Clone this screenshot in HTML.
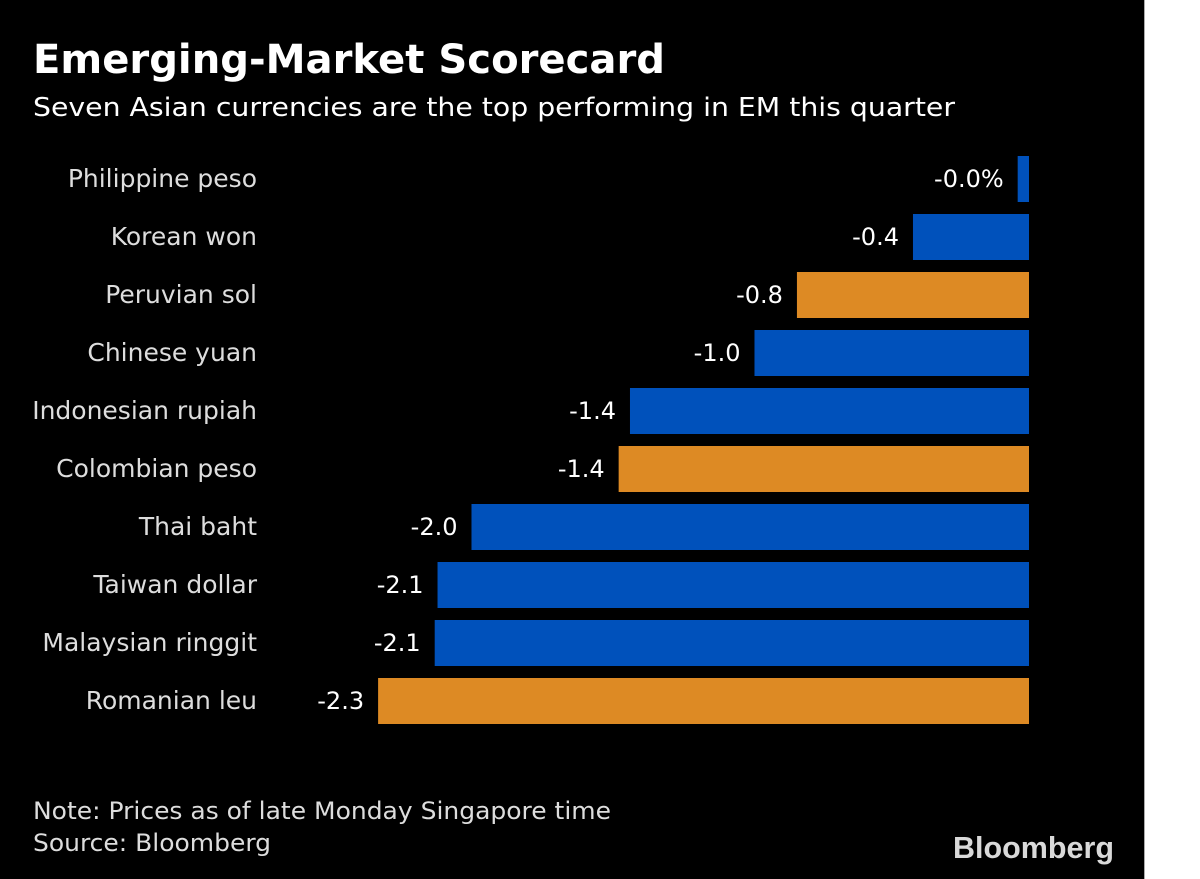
<!DOCTYPE html>
<html><head><meta charset="utf-8"><style>
html,body{margin:0;padding:0;background:#fff;}
svg{display:block;font-family:"DejaVu Sans","Liberation Sans",sans-serif;}
</style></head><body>
<svg id="chart" width="1200" height="879" viewBox="0 0 1200 879">
<rect x="0" y="0" width="1144" height="879" fill="#000"/>
<line x1="1144.5" y1="0" x2="1144.5" y2="879" stroke="#aaa" stroke-width="1"/>
<text x="33" y="73" font-size="40" font-weight="bold" fill="#fff" textLength="632" lengthAdjust="spacingAndGlyphs">Emerging-Market Scorecard</text>
<text x="33" y="116" font-size="26" fill="#fff" textLength="922" lengthAdjust="spacingAndGlyphs">Seven Asian currencies are the top performing in EM this quarter</text>
<g id="bars"></g>
<text x="33" y="819" font-size="24" fill="#ddd" textLength="578" lengthAdjust="spacingAndGlyphs">Note: Prices as of late Monday Singapore time</text>
<text x="33" y="851" font-size="24" fill="#ddd" textLength="238" lengthAdjust="spacingAndGlyphs">Source: Bloomberg</text>
<text x="953" y="858" font-family="Liberation Sans, sans-serif" font-size="31" font-weight="bold" fill="#d9d9d9" textLength="161" lengthAdjust="spacingAndGlyphs">Bloomberg</text>
</svg>
<script>
const categories = ["Philippine peso","Korean won","Peruvian sol","Chinese yuan","Indonesian rupiah","Colombian peso","Thai baht","Taiwan dollar","Malaysian ringgit","Romanian leu"];
const values = [-0.04,-0.41,-0.82,-0.97,-1.41,-1.45,-1.97,-2.09,-2.10,-2.30];
const valueLabels = ["-0.0%","-0.4","-0.8","-1.0","-1.4","-1.4","-2.0","-2.1","-2.1","-2.3"];
const isAsian = [true,true,false,true,true,false,true,true,true,false];

const NS = "http://www.w3.org/2000/svg";
const g = document.getElementById("bars");
const x0 = 1029, pxPerUnit = 283;
function xScale(v){ return x0 + v * pxPerUnit; }
function yTop(i){ return 156 + i * 58; }
const barH = 46;
categories.forEach((c, i) => {
  const v = values[i];
  const xl = Math.min(xScale(v), x0 - 11);
  const r = document.createElementNS(NS, "rect");
  
  
  r.setAttribute("x", xl);
  r.setAttribute("y", yTop(i));
  r.setAttribute("width", x0 - xl);
  r.setAttribute("height", barH);
  r.setAttribute("fill", isAsian[i] ? "#0051bb" : "#dd8a24");
  g.appendChild(r);
  const cl = document.createElementNS(NS, "text");
  
  
  cl.setAttribute("x", 257);
  cl.setAttribute("y", yTop(i) + barH/2 + 8);
  cl.setAttribute("text-anchor", "end");
  cl.setAttribute("font-size", "25");
  cl.setAttribute("fill", "#ddd");
  cl.textContent = c;
  g.appendChild(cl);
  const vl = document.createElementNS(NS, "text");
  
  
  vl.setAttribute("x", xl - 14);
  vl.setAttribute("y", yTop(i) + barH/2 + 8);
  vl.setAttribute("text-anchor", "end");
  vl.setAttribute("font-size", "24");
  vl.setAttribute("fill", "#fff");
  vl.textContent = valueLabels[i];
  g.appendChild(vl);
});
</script>
</body></html>
